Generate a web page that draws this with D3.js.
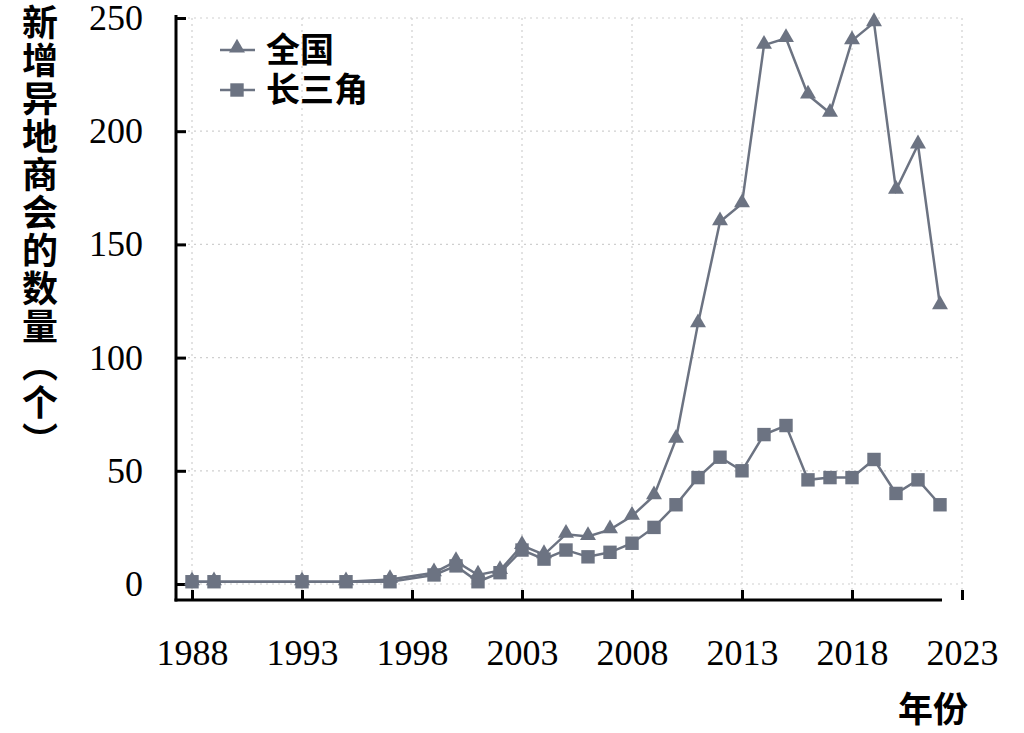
<!DOCTYPE html>
<html><head><meta charset="utf-8">
<script src="https://cdn.jsdelivr.net/npm/d3@7"></script>
<style>body{margin:0;background:#fff}</style>
</head><body>
<svg id="c" width="1024" height="733"></svg>
<script>
const years = [1988,1989,1993,1995,1997,1999,2000,2001,2002,2003,2004,2005,2006,2007,2008,2009,2010,2011,2012,2013,2014,2015,2016,2017,2018,2019,2020,2021,2022];
const national = [1,1,1,1,2,5,10,4,6,17,13,22,21,24,30,39,64,115,160,168,238,241,216,208,240,248,174,194,123];
const yrd = [1,1,1,1,1,4,8,1,5,15,11,15,12,14,18,25,35,47,56,50,66,70,46,47,47,55,40,46,35];
const xTicks = [1988,1993,1998,2003,2008,2013,2018,2023];
const yTicks = [0,50,100,150,200,250];
const seriesNames = ["全国","长三角"];

const svg = d3.select("#c");
const x = d3.scaleLinear().domain([1988,2023]).range([192,962]);
const y = d3.scaleLinear().domain([0,250]).range([584,18]);
const col = "#6c7382";
const serif = "'Liberation Serif','Times New Roman',serif";
const cjk = "'Noto Sans CJK SC',sans-serif";

// grid
const grid = svg.append("g").attr("stroke","#cfcfcf").attr("stroke-width",1.2).attr("stroke-dasharray","2,4");
yTicks.forEach(t=>grid.append("line").attr("x1",176).attr("x2",962).attr("y1",y(t)).attr("y2",y(t)));
xTicks.forEach(t=>grid.append("line").attr("x1",x(t)).attr("x2",x(t)).attr("y1",18).attr("y2",600));

// axes
const xa = svg.append("g").attr("transform","translate(0,600)")
  .call(d3.axisBottom(x).tickValues(xTicks).tickFormat(d3.format("d")).tickSizeInner(-10).tickSizeOuter(0).tickPadding(39));
xa.select(".domain").remove();
xa.selectAll(".tick line").attr("stroke","#000").attr("stroke-width",3);
xa.selectAll("text").attr("font-family",serif).attr("font-size",36).attr("fill","#000");
svg.append("line").attr("x1",174.5).attr("x2",942).attr("y1",600).attr("y2",600).attr("stroke","#000").attr("stroke-width",3);

const ya = svg.append("g").attr("transform","translate(176,0)")
  .call(d3.axisLeft(y).tickValues(yTicks).tickSizeInner(-10).tickSizeOuter(0).tickPadding(33));
ya.select(".domain").remove();
ya.selectAll(".tick line").attr("stroke","#000").attr("stroke-width",3);
ya.selectAll("text").attr("font-family",serif).attr("font-size",36).attr("fill","#000");
svg.append("line").attr("x1",176).attr("x2",176).attr("y1",15).attr("y2",601.5).attr("stroke","#000").attr("stroke-width",3);

// lines
const line = d3.line().x((d,i)=>x(years[i])).y(d=>y(d));
[national,yrd].forEach(s=>svg.append("path").datum(s).attr("d",line).attr("fill","none").attr("stroke",col).attr("stroke-width",2.5));

const tri = d3.symbol().type(d3.symbolTriangle).size(110);
const sq = d3.symbol().type(d3.symbolSquare).size(180);
svg.append("g").selectAll("path").data(yrd).join("path")
  .attr("d",sq).attr("transform",(d,i)=>`translate(${x(years[i])},${y(d)})`).attr("fill",col);
svg.append("g").selectAll("path").data(national).join("path")
  .attr("d",tri).attr("transform",(d,i)=>`translate(${x(years[i])},${y(d)-1})`).attr("fill",col);

// legend
const lg = svg.append("g");
[[50,tri],[90,sq]].forEach(([ly,sym],i)=>{
  lg.append("line").attr("x1",220).attr("x2",255).attr("y1",ly).attr("y2",ly).attr("stroke",col).attr("stroke-width",2.5);
  lg.append("path").attr("d",sym).attr("transform",`translate(237,${ly-(i==0?2:0)})`).attr("fill",col);
  lg.append("text").attr("x",266).attr("y",ly).attr("dy","0.36em").attr("font-family",cjk).attr("font-size",34).attr("font-weight",700).text(seriesNames[i]);
});

// axis titles
svg.append("text").attr("x",40).attr("y",4).attr("font-family",cjk).attr("font-size",36).attr("font-weight",700)
  .style("writing-mode","vertical-rl").style("text-orientation","upright").style("letter-spacing","2px").text("新增异地商会的数量（个）");
svg.append("text").attr("x",933).attr("y",709).attr("dy","0.36em").attr("text-anchor","middle").attr("font-family",cjk).attr("font-size",35).attr("font-weight",700).text("年份");
</script>
</body></html>
